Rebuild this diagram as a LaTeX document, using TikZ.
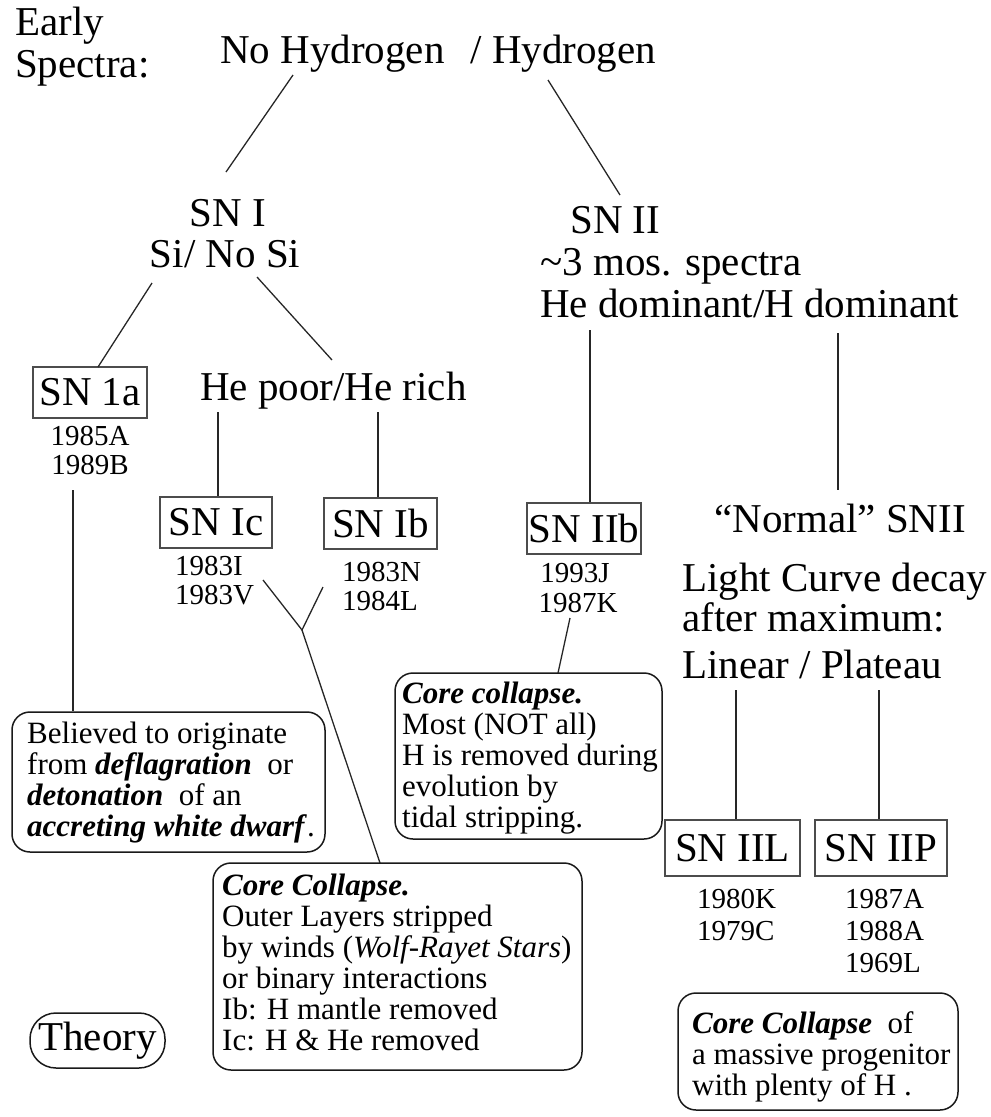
\documentclass[tikz,border=0pt]{standalone}
\usepackage{fontspec}
\setmainfont{Liberation Serif}
\tikzset{
  big/.style={font=\fontsize{41}{41}\selectfont, inner sep=0pt},
  yr/.style={font=\fontsize{29}{29}\selectfont, inner sep=0pt},
  sm/.style={font=\fontsize{31}{31}\selectfont, inner sep=0pt, align=left},
  sqbox/.style={draw=black!70, line width=1.5pt, inner sep=0pt, font=\fontsize{41}{41}\selectfont},
  rbox/.style={draw=black!90, rounded corners=18pt, line width=1.5pt, inner sep=0pt},
  conn/.style={line width=1.3pt, draw=black!85},
}
\newcommand{\bi}[1]{\textbf{\textit{#1}}}
\begin{document}
\begin{tikzpicture}[x=1pt, y=-1pt]
\useasboundingbox (0,0) rectangle (991,1117);

% headings
\node[big, anchor=base west] (early) at (15,35) {Early};
\node[big, anchor=base west] (spectra) at (15,77) {Spectra:};
\node[big, anchor=base west] (title) at (220,63) {No Hydrogen\hspace{26pt}/ Hydrogen};

\node[big, anchor=base] (sn1) at (228,226) {SN I};
\node[big, anchor=base] (si) at (225,267) {Si/ No Si};

\node[big, anchor=base west] (sn2) at (570,233) {SN II};
\node[big, anchor=base west] (mos) at (540,275) {\textasciitilde3 mos. spectra};
\node[big, anchor=base west] (hedom) at (540,317) {He dominant/H dominant};

% SN I branch
\node[sqbox, minimum width=114pt, minimum height=51pt] (ia) at (90,392.5) {SN 1a};
\node[big, anchor=base west] (hepoor) at (200,400) {He poor/He rich};
\node[yr, anchor=base] (y85a) at (90,445) {1985A};
\node[yr, anchor=base] (y89b) at (90,474) {1989B};

\node[sqbox, minimum width=112pt, minimum height=51pt] (ic) at (216,522.5) {SN Ic};
\node[sqbox, minimum width=113pt, minimum height=51pt] (ib) at (380.5,523.5) {SN Ib};
\node[yr, anchor=base west] (y83i) at (175,575) {1983I};
\node[yr, anchor=base west] (y83v) at (175,604) {1983V};
\node[yr, anchor=base west] (y83n) at (342,581) {1983N};
\node[yr, anchor=base west] (y84l) at (342,610) {1984L};

% SN II branch
\node[sqbox, minimum width=114pt, minimum height=51pt] (iib) at (584,528.5) {SN IIb};
\node[yr, anchor=base] (y93j) at (575,582) {1993J};
\node[yr, anchor=base] (y87k) at (578,612) {1987K};

\node[big, anchor=base] (normal) at (840,532) {“Normal” SNII};
\node[big, anchor=base west] (lc1) at (682,591) {Light Curve decay};
\node[big, anchor=base west] (lc2) at (682,631) {after maximum:};
\node[big, anchor=base west] (lc3) at (682,678) {Linear / Plateau};

\node[sqbox, minimum width=135pt, minimum height=56pt] (iil) at (732.5,848) {SN IIL};
\node[sqbox, minimum width=132pt, minimum height=56pt] (iip) at (881,848) {SN IIP};
\node[yr, anchor=base west] (y80k) at (697,908) {1980K};
\node[yr, anchor=base west] (y79c) at (697,940) {1979C};
\node[yr, anchor=base west] (y87a) at (845,908) {1987A};
\node[yr, anchor=base west] (y88a) at (845,940) {1988A};
\node[yr, anchor=base west] (y69l) at (845,972) {1969L};

% rounded info boxes
\node[rbox, minimum width=313pt, minimum height=140pt] (bel) at (168.5,782) {};
\node[sm, anchor=north west] (belt) at (27,722) {Believed to originate\\from \bi{deflagration}~~or\\\bi{detonation}~~of an\\\bi{accreting white dwarf}.};

\node[rbox, minimum width=267pt, minimum height=166pt] (iibx) at (528.5,756) {};
\node[sm, anchor=north west] (iibt) at (402,682) {\bi{Core collapse.}\\Most (NOT all)\\H is removed during\\evolution by\\tidal stripping.};

\node[rbox, minimum width=369pt, minimum height=207pt] (cc) at (397.5,966.5) {};
\node[sm, anchor=north west] (cct) at (222,874) {\bi{Core Collapse.}\\Outer Layers stripped\\by winds (\textit{Wolf-Rayet Stars})\\or binary interactions\\Ib: H mantle removed\\Ic: H \& He removed};

\node[rbox, minimum width=280pt, minimum height=117pt] (mp) at (818,1051.5) {};
\node[sm, anchor=north west] (mpt) at (692,1011) {\bi{Core Collapse}~~of\\a massive progenitor\\with plenty of H .};

\node[rbox, rounded corners=26pt, big, minimum width=135pt, minimum height=55pt] (theory) at (97.5,1040.5) {Theory};

% connector end points
\coordinate (t1) at (293,75);
\coordinate (t2) at (226,172);
\coordinate (t3) at (548,80);
\coordinate (t4) at (620,195);
\coordinate (s1) at (152,283);
\coordinate (s2) at (98,367);
\coordinate (s3) at (257,277);
\coordinate (s4) at (332,360);
\coordinate (h1) at (218,412);
\coordinate (h2) at (378,412);
\coordinate (a1) at (73,490);
\coordinate (ya) at (263,580);
\coordinate (yb) at (323,587);
\coordinate (yv) at (302,630);
\coordinate (yc) at (380,863);
\coordinate (k1) at (570,618);
\coordinate (k2) at (558,673);
\coordinate (d1) at (590,330);
\coordinate (d2) at (838,333);
\coordinate (d3) at (838,490);
\coordinate (p1) at (736,690);
\coordinate (p2) at (879,690);

% connectors
\draw[conn] (t1) -- (t2);
\draw[conn] (t3) -- (t4);
\draw[conn] (s1) -- (s2);
\draw[conn] (s3) -- (s4);
\draw[conn] (h1) -- (h1 |- ic.north);
\draw[conn] (h2) -- (h2 |- ib.north);
\draw[conn] (a1) -- (a1 |- bel.north);
\draw[conn] (ya) -- (yv) -- (yb);
\draw[conn] (yv) -- (yc);
\draw[conn] (k1) -- (k2);
\draw[conn] (d1) -- (d1 |- iib.north);
\draw[conn] (d2) -- (d3);
\draw[conn] (p1) -- (p1 |- iil.north);
\draw[conn] (p2) -- (p2 |- iip.north);
\end{tikzpicture}
\end{document}
